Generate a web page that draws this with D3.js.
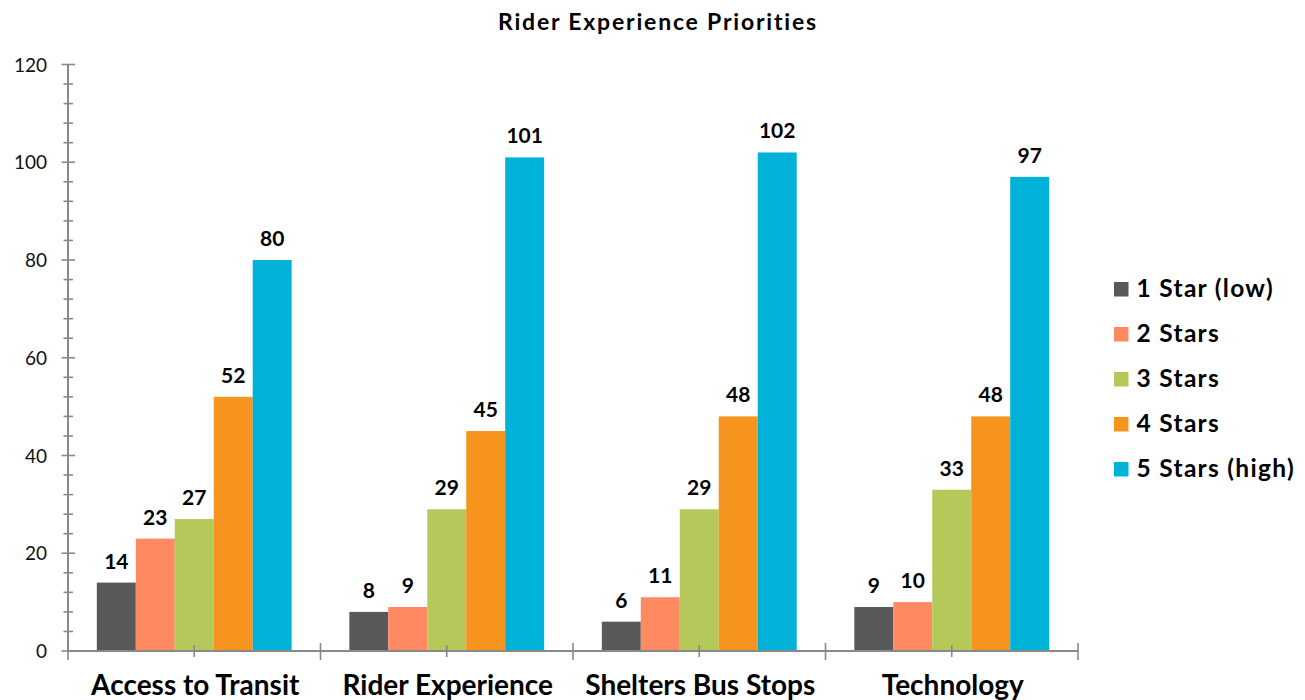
<!DOCTYPE html>
<html>
<head>
<meta charset="utf-8">
<script src="https://cdn.jsdelivr.net/npm/d3@7"></script>
<style>
  body { margin: 0; background: #fff; }
  svg { display: block; font-family: 'Lato', 'DejaVu Sans', sans-serif; }
</style>
</head>
<body>
<div id="chart"></div>
<script>
// data
var categories = ['Access to Transit', 'Rider Experience', 'Shelters Bus Stops', 'Technology'];
var seriesNames = ['1 Star (low)', '2 Stars', '3 Stars', '4 Stars', '5 Stars (high)'];
var star1 = [14, 8, 6, 9];
var star2 = [23, 9, 11, 10];
var star3 = [27, 29, 29, 33];
var star4 = [52, 45, 48, 48];
var star5 = [80, 101, 102, 97];
var yTicks = [0, 20, 40, 60, 80, 100, 120];

var seriesValues = [star1, star2, star3, star4, star5];
var colors = ['#595959', '#FF8A61', '#B4C95A', '#F7941E', '#00B2D8'];

var width = 1305, height = 700;
var axisColor = '#898989';

var svg = d3.select('#chart').append('svg')
	.attr('width', width)
	.attr('height', height);

var x = d3.scaleBand()
	.domain(categories)
	.range([68, 1078])
	.paddingInner(0)
	.paddingOuter(0);

var xInner = d3.scaleBand()
	.domain(seriesNames)
	.range([0, x.bandwidth()])
	.paddingOuter(0.74)
	.paddingInner(0);

var y = d3.scaleLinear()
	.domain([0, 120])
	.range([651, 64.5]);

// title
svg.append('text')
	.attr('x', 658)
	.attr('y', 30)
	.attr('text-anchor', 'middle')
	.attr('font-size', 23)
	.attr('font-weight', 'bold')
	.attr('letter-spacing', 1.8)
	.attr('fill', '#000')
	.text('Rider Experience Priorities');

// bars
var rows = [];
categories.forEach(function(c, ci) {
	seriesNames.forEach(function(s, si) {
		rows.push({cat: c, series: s, si: si, value: seriesValues[si][ci]});
	});
});

svg.selectAll('.bar')
	.data(rows)
	.enter().append('rect')
	.attr('class', 'bar')
	.attr('x', function(d) { return x(d.cat) + xInner(d.series); })
	.attr('y', function(d) { return y(d.value); })
	.attr('width', xInner.bandwidth())
	.attr('height', function(d) { return y(0) - y(d.value); })
	.attr('fill', function(d) { return colors[d.si]; });

// value labels
svg.selectAll('.label-num')
	.data(rows)
	.enter().append('text')
	.attr('class', 'label-num')
	.attr('x', function(d) { return x(d.cat) + xInner(d.series) + xInner.bandwidth() / 2; })
	.attr('y', function(d) { return y(d.value) - 14; })
	.attr('text-anchor', 'middle')
	.attr('font-size', 21)
	.attr('font-weight', 'bold')
	.attr('fill', '#000')
	.text(function(d) { return d.value; });

// y axis: line, major + minor ticks
var yAxis = svg.append('g').attr('class', 'y-axis');
yAxis.append('line')
	.attr('x1', 68).attr('x2', 68)
	.attr('y1', y(120)).attr('y2', y(0) + 1)
	.attr('stroke', axisColor).attr('stroke-width', 2);

var minor = d3.range(0, 121, 4).filter(function(v) { return v % 20 !== 0; });
yAxis.selectAll('.minor')
	.data(minor)
	.enter().append('line')
	.attr('x1', 63.5).attr('x2', 73)
	.attr('y1', function(d) { return y(d); })
	.attr('y2', function(d) { return y(d); })
	.attr('stroke', axisColor).attr('stroke-width', 1.6);

yAxis.selectAll('.major')
	.data(yTicks)
	.enter().append('line')
	.attr('x1', 61.5).attr('x2', 75)
	.attr('y1', function(d) { return y(d); })
	.attr('y2', function(d) { return y(d); })
	.attr('stroke', axisColor).attr('stroke-width', 1.6);

yAxis.selectAll('.tick-label')
	.data(yTicks)
	.enter().append('text')
	.attr('x', 47)
	.attr('y', function(d) { return y(d) + 7; })
	.attr('text-anchor', 'end')
	.attr('font-size', 19)
	.attr('fill', '#111')
	.text(function(d) { return d; });

// x axis
var xAxis = svg.append('g').attr('class', 'x-axis');
xAxis.append('line')
	.attr('x1', 67).attr('x2', 1078)
	.attr('y1', y(0)).attr('y2', y(0))
	.attr('stroke', axisColor).attr('stroke-width', 2);

var bounds = categories.map(function(c) { return x(c); }).concat([x.range()[1]]);
xAxis.selectAll('.bound')
	.data(bounds)
	.enter().append('line')
	.attr('x1', function(d) { return d; })
	.attr('x2', function(d) { return d; })
	.attr('y1', function(d, i) { return i === 0 ? y(0) : y(0) - 8; })
	.attr('y2', y(0) + 9)
	.attr('stroke', axisColor).attr('stroke-width', 1.6);

xAxis.selectAll('.mid')
	.data(categories)
	.enter().append('line')
	.attr('x1', function(d) { return x(d) + x.bandwidth() / 2; })
	.attr('x2', function(d) { return x(d) + x.bandwidth() / 2; })
	.attr('y1', y(0) - 6)
	.attr('y2', y(0) + 6)
	.attr('stroke', axisColor).attr('stroke-width', 1.6);

xAxis.selectAll('.cat-label')
	.data(categories)
	.enter().append('text')
	.attr('x', function(d) { return x(d) + x.bandwidth() / 2 + 1; })
	.attr('y', 695)
	.attr('text-anchor', 'middle')
	.attr('font-size', 28)
	.attr('font-weight', 'bold')
	.attr('fill', '#000')
	.text(function(d) { return d; });

// legend
var legend = svg.selectAll('.legend')
	.data(seriesNames)
	.enter().append('g')
	.attr('class', 'legend')
	.attr('transform', function(d, i) { return 'translate(1114,' + (282 + i * 45) + ')'; });

legend.append('rect')
	.attr('width', 14.5)
	.attr('height', 14.5)
	.attr('fill', function(d, i) { return colors[i]; });

legend.append('text')
	.attr('x', 22.5)
	.attr('y', 14.5)
	.attr('font-size', 24.5)
	.attr('font-weight', 'bold')
	.attr('letter-spacing', 1.3)
	.attr('fill', '#000')
	.text(function(d) { return d; });
</script>
</body>
</html>
